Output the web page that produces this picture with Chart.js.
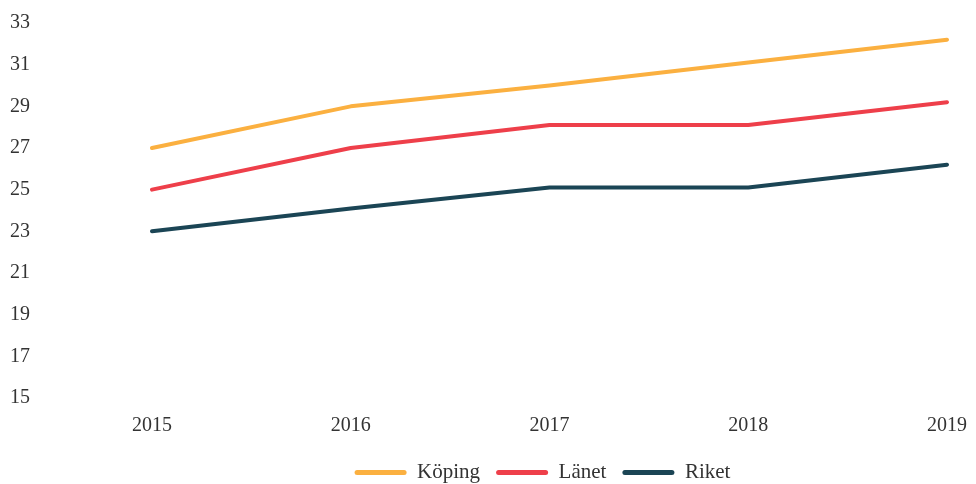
<!DOCTYPE html>
<html>
<head>
<meta charset="utf-8">
<script src="https://cdn.jsdelivr.net/npm/chart.js@4.4.1/dist/chart.umd.min.js"></script>
<style>
  html, body { margin: 0; padding: 0; background: #fff; }
  #wrap { width: 976px; height: 484px; position: relative; }
</style>
</head>
<body>
<div id="wrap"><canvas id="chart"></canvas></div>
<script>
// data
const years = ['2015', '2016', '2017', '2018', '2019'];
const koping = [27, 29, 30, 31.1, 32.2];
const lanet = [25, 27, 28.1, 28.1, 29.2];
const riket = [23, 24.1, 25.1, 25.1, 26.2];

const serif = "'Liberation Serif', 'DejaVu Serif', serif";

function line(label, data, color) {
    return {
        label: label,
        data: data,
        borderColor: color,
        backgroundColor: color,
        borderWidth: 4,
        borderCapStyle: 'round',
        borderJoinStyle: 'round',
        pointRadius: 0,
        tension: 0
    };
}

// legend in the reference sits centred under the plot area, not the canvas
const shiftLegend = {
    id: 'shiftLegend',
    afterLayout: function (chart) {
        const dx = 64;
        chart.legend.left += dx;
        chart.legend.right += dx;
    }
};

new Chart(document.getElementById('chart').getContext('2d'), {
    type: 'line',
    data: {
        labels: years,
        datasets: [
            line('Köping', koping, '#fbb040'),
            line('Länet', lanet, '#ee3f4a'),
            line('Riket', riket, '#1b4555')
        ]
    },
    plugins: [shiftLegend],
    options: {
        responsive: true,
        maintainAspectRatio: false,
        animation: false,
        layout: { padding: { left: 10, right: 29, top: 23, bottom: -9 } },
        plugins: {
            tooltip: { enabled: false },
            legend: {
                position: 'bottom',
                labels: {
                    boxWidth: 52,
                    boxHeight: 5,
                    padding: 16,
                    useBorderRadius: true,
                    borderRadius: 2.5,
                    color: '#333',
                    font: { family: serif, size: 21 },
                    generateLabels: function (chart) {
                        const items = Chart.defaults.plugins.legend.labels.generateLabels(chart);
                        items.forEach(function (it) { it.lineWidth = 0; });
                        return items;
                    }
                }
            }
        },
        scales: {
            x: {
                offset: false,
                grid: { display: false },
                border: { display: false },
                ticks: { color: '#333', padding: 8, font: { family: serif, size: 20 } }
            },
            y: {
                min: 15,
                max: 33,
                grid: { display: false },
                border: { display: false },
                afterFit: function (axis) { axis.width = 142; },
                ticks: {
                    stepSize: 2,
                    crossAlign: 'far',
                    color: '#333',
                    font: { family: serif, size: 20 }
                }
            }
        }
    }
});
</script>
</body>
</html>
